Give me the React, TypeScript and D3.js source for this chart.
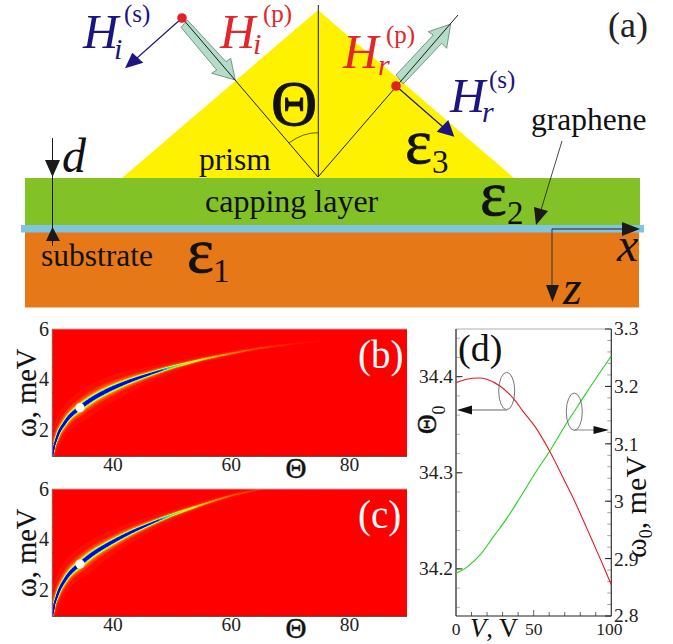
import React from "react";
import * as d3 from "d3";

// Panel (b) resonance ridge: angle (deg), energy (meV), peak depth, Lorentz half-width
const ridgeThetaB = [30.05,30.17,30.37,30.74,31.22,31.86,32.99,34.68,36.93,39.75,43.13,46.51,49.89,52.71,55.47,58.34,61.16,63.92,66.79,69.61,72.37,75.24];
const ridgeOmegaB = [1.01,1.18,1.44,1.71,1.99,2.23,2.58,2.91,3.28,3.63,3.96,4.23,4.48,4.65,4.81,4.95,5.08,5.20,5.30,5.38,5.46,5.53];
const ridgeDepthB = [0.9,1.3,1.7,2.0,2.2,2.2,2.2,2.2,2.2,2.2,1.85,1.25,0.7,0.5,0.35,0.26,0.18,0.13,0.1,0.07,0.05,0.03];
const ridgeWidthB = [0.35,0.4,0.5,0.6,0.7,0.8,1.0,1.25,1.25,1.2,1.05,0.95,0.9,0.85,0.8,0.8,0.8,0.75,0.7,0.7,0.7,0.7];
// Panel (c)
const ridgeThetaC = [30.05,30.17,30.37,30.74,31.22,31.86,32.99,34.68,36.93,39.75,43.13,46.51,49.89,52.71,55.52,58.34,61.16,63.92,65.6];
const ridgeOmegaC = [1.05,1.18,1.48,1.758,2.053,2.328,2.70,3.054,3.467,3.867,4.28,4.63,4.95,5.18,5.40,5.61,5.79,5.93,6.0];
const ridgeDepthC = [0.9,1.3,1.7,2.0,2.2,2.2,2.2,2.2,2.2,2.1,1.7,1.15,0.66,0.46,0.3,0.2,0.13,0.09,0.06];
const ridgeWidthC = [0.35,0.4,0.5,0.6,0.7,0.8,1.0,1.25,1.2,1.1,1.0,0.9,0.85,0.85,0.8,0.8,0.8,0.75,0.7];
const dotB = { theta: 34.68, omega: 2.91 };
const dotC = { theta: 34.68, omega: 3.05 };

// Panel (d)
const voltRed = [0,6.9,14.4,19.8,28.3,36.9,43.3,50.9,60.5,69.1,75.5,84.2,92.7,100];
const theta0 = [34.3938,34.3973,34.3986,34.3973,34.3903,34.3775,34.3636,34.348,34.322,34.2944,34.2736,34.2424,34.2112,34.1835];
const voltGreen = [0,6.9,15.5,24.1,32.7,41.2,50.9,60.5,71.2,80.9,90.5,100];
const omega0 = [2.8744,2.8848,2.9063,2.9382,2.970,3.006,3.0486,3.088,3.1358,3.176,3.2155,3.253];

const heatThetaTicks = [40,60,80];
const heatOmegaTicks = [2,4,6];
const theta0Ticks = [34.2,34.3,34.4];
const omega0Ticks = ["2.8","2.9","3","3.1","3.2","3.3"];
const voltTicks = [0,50,100];

const SERIF = "'Liberation Serif','Times New Roman',serif";
const jet = d3.scaleLinear<string>()
  .domain([0,0.14,0.32,0.48,0.62,0.76,0.9,1])
  .range(["#ff0000","#ff7a00","#ffff30","#80ff30","#00ffa0","#00c0ff","#0010ff","#0000e0"]);
const levels = d3.range(0.02,1.001,0.04);

function HeatPanel({ top, label, th, om, dp, wd, dot, id }: any) {
  const x = d3.scaleLinear().domain([30,90]).range([52.3,407]);
  const y = d3.scaleLinear().domain([1,6]).range([top+127.3,top]);
  const cr = (a: number[], i: number, t: number) => {
    const p0=a[Math.max(i-1,0)],p1=a[i],p2=a[i+1],p3=a[Math.min(i+2,a.length-1)];
    return 0.5*(2*p1+(p2-p0)*t+(2*p0-5*p1+4*p2-p3)*t*t+(3*p1-p0-3*p2+p3)*t*t*t);
  };
  const fine: any[] = [];
  for (let i=0;i<th.length-1;i++) for (let k=0;k<5;k++) {
    const t=k/5;
    fine.push({t:cr(th,i,t),o:cr(om,i,t),d:dp[i]+(dp[i+1]-dp[i])*t,w:wd[i]+(wd[i+1]-wd[i])*t});
  }
  fine.push({t:th[th.length-1],o:om[om.length-1],d:dp[dp.length-1],w:wd[wd.length-1]});
  const segs: any[] = [];
  levels.forEach((L,li)=>{
    for (let i=0;i<fine.length-1;i++){
      const a=fine[i],b=fine[i+1];
      const dm=(a.d+b.d)/2; if(dm<=L) continue;
      const w=2*((a.w+b.w)/2)*Math.sqrt(dm/L-1);
      segs.push(<line key={li+"-"+i} x1={x(a.t)} y1={y(a.o)} x2={x(b.t)} y2={y(b.o)} stroke={jet(L)} strokeWidth={w} strokeLinecap="round"/>);
    }
  });
  const xMinor=d3.range(35,90,5);
  const yMinor=d3.range(1.5,6,0.5);
  return <g>
    <clipPath id={id}><rect x={52.3} y={top} width={354.7} height={127.3}/></clipPath>
    <rect x={52.3} y={top} width={354.7} height={127.3} fill="#ff0000"/>
    <g clipPath={`url(#${id})`}><g filter="url(#soft)">{segs}</g></g>
    <circle cx={x(dot.theta)} cy={y(dot.omega)} r={4.6} fill="#fff"/>
    <line x1={52.3} x2={407} y1={top} y2={top} stroke="#b9a0a0" strokeWidth={1}/>
    <line x1={52.3} x2={407} y1={top+127.3} y2={top+127.3} stroke="#553333" strokeWidth={1}/>
    <line x1={52.3} x2={52.3} y1={top} y2={top+127.3} stroke="#a05050" strokeWidth={1}/>
    {xMinor.map(v=><line key={v} x1={x(v)} x2={x(v)} y1={top+127.3} y2={top+124.8} stroke="#803030" strokeWidth={0.8}/>)}
    {yMinor.map(v=><line key={v} x1={52.3} x2={55} y1={y(v)} y2={y(v)} stroke="#803030" strokeWidth={0.8}/>)}
    {heatThetaTicks.map(v=><text key={v} x={x(v)+1.5} y={top+142} fontSize={19.5} textAnchor="middle" fill="#222">{v}</text>)}
    {heatOmegaTicks.map(v=><text key={v} x={49} y={y(v)+6.5} fontSize={20} textAnchor="end" fill="#222">{v}</text>)}
    <text x={296} y={top+149} fontSize={29} textAnchor="middle" fill="#111" stroke="#111" strokeWidth={0.5}>Θ</text>
    <text transform={`translate(36,${top+108}) rotate(-90)`} fontSize={28.5} fill="#111" stroke="#111" strokeWidth={0.2}>ω, meV</text>
    <text x={358} y={top+39} fontSize={39} fill="#fff">{label}</text>
  </g>;
}

function Poly({ pts, fill, stroke, sw }: any) {
  return <polygon points={pts} fill={fill} stroke={stroke} strokeWidth={sw}/>;
}

function Field({ x, y, color, sub, sup, subX, subY, supX, supY }: any) {
  return <g fill={color}>
    <text x={x} y={y} fontSize={49} fontStyle="italic">H</text>
    <text x={subX} y={subY} fontSize={30} fontStyle="italic">{sub}</text>
    <text x={supX} y={supY} fontSize={25}>{sup}</text>
  </g>;
}

function Eps({ x, y, n, nx, ny }: any) {
  return <g fill="#111">
    <text x={x} y={y} fontSize={64} stroke="#111" strokeWidth={0.7}>ε</text>
    <text x={nx} y={ny} fontSize={33}>{n}</text>
  </g>;
}

function SchemaPanel() {
  const ink="#1a1a1a", navy="#1c1480", red="#e3262a", mint="#b5dcc8", mintEdge="#50705f";
  return <g>
    <polygon points="318,10 122,178 514,178" fill="#fff200"/>
    <rect x={25} y={178} width={615} height={47} fill="#82c226"/>
    <rect x={25} y={232} width={614} height={75.5} fill="#e67817"/>
    <rect x={21} y={225} width={623} height={7.5} fill="#7fc4e0"/>

    <Poly pts="181,27.3 187.3,20 226,61.7 230.7,58.3 235.3,80 211.7,73.3 216.7,70" fill={mint} stroke={mintEdge} sw={0.7}/>
    <Poly pts="396,75 403.3,84 441.7,43.3 446.7,48.3 450.7,24 428.3,31.7 433.3,35" fill={mint} stroke={mintEdge} sw={0.7}/>
    <line x1={318.3} y1={5} x2={318.3} y2={177} stroke={ink} strokeWidth={1}/>
    <polyline points="182,18 318,177 458,15" fill="none" stroke={ink} strokeWidth={1}/>
    <path d="M289.3,142.7 Q303,132.5 318.3,132.7" fill="none" stroke={ink} strokeWidth={0.7}/>

    <line x1={182} y1={18} x2={137} y2={58} stroke={navy} strokeWidth={1.2}/>
    <polygon points="125,68.3 132.3,52.7 143.3,62.7" fill={navy}/>
    <line x1={396} y1={86} x2={443} y2={127} stroke={navy} strokeWidth={1.2}/>
    <polygon points="454.3,136.7 436.7,131.7 448.3,120" fill={navy}/>
    <circle cx={182} cy={18} r={4.8} fill="#e3202a"/>
    <circle cx={396} cy={86} r={4.8} fill="#e3202a"/>

    <Field x={83} y={48} color={navy} sub="i" sup="(s)" subX={114} subY={59} supX={124} supY={22}/>
    <Field x={220} y={48} color={red} sub="i" sup="(p)" subX={253} subY={54} supX={263} supY={22}/>
    <Field x={343} y={68} color={red} sub="r" sup="(p)" subX={378} subY={75} supX={386} supY={43}/>
    <Field x={450} y={112} color={navy} sub="r" sup="(s)" subX={482} subY={122} supX={489} supY={88}/>

    <text x={271} y={125} fontSize={64} fill="#111" stroke="#111" strokeWidth={0.9}>Θ</text>
    <text x={199} y={170} fontSize={31.5} fill="#111">prism</text>
    <text x={205} y={212} fontSize={32} fill="#111">capping layer</text>
    <text x={41} y={266} fontSize={31.5} fill="#111">substrate</text>
    <text x={531} y={130} fontSize={31.5} fill="#111">graphene</text>
    <text x={608} y={37} fontSize={36} fill="#222">(a)</text>

    <Eps x={187} y={272} n="1" nx={213} ny={282}/>
    <Eps x={405} y={163} n="3" nx={432} ny={173}/>
    <Eps x={480} y={215} n="2" nx={507} ny={224}/>

    <line x1={52.5} y1={138} x2={52.5} y2={246} stroke={ink} strokeWidth={1}/>
    <polygon points="45,160 60,160 52.5,177" fill={ink}/>
    <polygon points="46,241 60,241 52.5,227" fill={ink}/>
    <text x={62} y={172} fontSize={48} fontStyle="italic" fill="#111">d</text>

    <line x1={552} y1={229} x2={625} y2={229} stroke="#222" strokeWidth={1}/>
    <line x1={552} y1={229} x2={552} y2={288} stroke="#333" strokeWidth={1}/>
    <polygon points="622,222 622,236 640,229" fill={ink}/>
    <polygon points="546,285 559,285 552.5,302" fill={ink}/>
    <text x={617} y={261} fontSize={48} fontStyle="italic" fill="#111">x</text>
    <text x={563} y={304} fontSize={48} fontStyle="italic" fill="#111">z</text>

    <line x1={562} y1={141} x2={541} y2={210} stroke={ink} strokeWidth={0.8}/>
    <polygon points="536,225 534,207 548,211" fill={ink}/>
  </g>;
}

function PanelD() {
  const x=d3.scaleLinear().domain([0,100]).range([456,611.3]);
  const yL=d3.scaleLinear().domain([34.151,34.4496]).range([616,329]);
  const yR=d3.scaleLinear().domain([2.8,3.3]).range([616,329]);
  const redLine=d3.line<number>().x((_,i)=>x(voltRed[i])).y(d=>yL(d)).curve(d3.curveCatmullRom);
  const greenLine=d3.line<number>().x((_,i)=>x(voltGreen[i])).y(d=>yR(d)).curve(d3.curveCatmullRom);
  const leftMinor=d3.range(34.16,34.45,0.02);
  const rightMinor=d3.range(2.82,3.3,0.02);
  const bottomMinor=d3.range(10,100,10);
  return <g>
    <rect x={456} y={329} width={155.3} height={287} fill="#fff"/>
    <line x1={456} x2={611.3} y1={329} y2={329} stroke="#999" strokeWidth={0.8}/>
    {leftMinor.map(v=><line key={v} x1={456} x2={460} y1={yL(v)} y2={yL(v)} stroke="#aaa" strokeWidth={0.9}/>)}
    {theta0Ticks.map(v=><line key={v} x1={456} x2={462.5} y1={yL(v)} y2={yL(v)} stroke="#222" strokeWidth={1}/>)}
    {rightMinor.map(v=><line key={v} x1={611.3} x2={607.3} y1={yR(v)} y2={yR(v)} stroke="#999" strokeWidth={0.9}/>)}
    {omega0Ticks.map(v=><line key={v} x1={611.3} x2={605} y1={yR(+v)} y2={yR(+v)} stroke="#222" strokeWidth={1}/>)}
    {bottomMinor.map(v=><line key={v} x1={x(v)} x2={x(v)} y1={616} y2={v===50?610:612} stroke="#555" strokeWidth={0.9}/>)}
    <line x1={456} x2={456} y1={329} y2={616} stroke="#555" strokeWidth={1.6}/>
    <line x1={611.3} x2={611.3} y1={329} y2={616} stroke="#333" strokeWidth={1.2}/>
    <line x1={456} x2={611.3} y1={616} y2={616} stroke="#222" strokeWidth={1.2}/>

    <path d={greenLine(omega0)!} fill="none" stroke="#1fd41f" strokeWidth={1.1}/>
    <path d={redLine(theta0)!} fill="none" stroke="#e41a26" strokeWidth={1.1}/>

    <ellipse cx={506.7} cy={391} rx={8} ry={18.7} fill="none" stroke="#666" strokeWidth={0.9}/>
    <line x1={507} x2={472} y1={410} y2={410} stroke="#999" strokeWidth={1.4}/>
    <polygon points="457,410 472,405.5 472,414.5" fill="#111"/>
    <ellipse cx={574.3} cy={411.7} rx={8} ry={18.7} fill="none" stroke="#666" strokeWidth={0.9}/>
    <line x1={574.3} x2={595} y1={430} y2={430} stroke="#777" strokeWidth={0.9}/>
    <polygon points="609,430 593.5,426 593.5,434" fill="#111"/>

    {theta0Ticks.map(v=><text key={v} x={453} y={yL(v)+6.5} fontSize={19.5} textAnchor="end" fill="#222">{v}</text>)}
    {omega0Ticks.map(v=><text key={v} x={614} y={yR(+v)+(v==="2.8"?6:v==="3.3"?6:7)} fontSize={19.5} fill="#222">{v}</text>)}
    {voltTicks.map(v=><text key={v} x={x(v)+(v===100?-2:0)} y={635} fontSize={17.5} textAnchor="middle" fill="#222">{v}</text>)}
    <text x={470} y={637} fontSize={26.5} fill="#111"><tspan fontStyle="italic">V</tspan>, V</text>

    <text transform="translate(436,434) rotate(-90)" fontSize={27} fill="#111" stroke="#111" strokeWidth={0.5}>Θ<tspan dy={9} fontSize={18} strokeWidth={0}>0</tspan></text>
    <text transform="translate(645.5,558) rotate(-90)" fontSize={30} fill="#111">ω<tspan dy={6} fontSize={18}>0</tspan><tspan dy={-6}>, meV</tspan></text>
    <text x={458} y={361} fontSize={38} fill="#111">(d)</text>
  </g>;
}

export default function App() {
  return <svg width={673} height={644} viewBox="0 0 673 644" style={{position:"absolute",left:0,top:0,background:"#fff"}} fontFamily={SERIF}>
    <defs><filter id="soft" x="-5%" y="-5%" width="110%" height="110%"><feGaussianBlur stdDeviation={0.4}/></filter></defs>
    <SchemaPanel/>
    <HeatPanel id="cb" top={329} label="(b)" th={ridgeThetaB} om={ridgeOmegaB} dp={ridgeDepthB} wd={ridgeWidthB} dot={dotB}/>
    <HeatPanel id="cc" top={489} label="(c)" th={ridgeThetaC} om={ridgeOmegaC} dp={ridgeDepthC} wd={ridgeWidthC} dot={dotC}/>
    <PanelD/>
  </svg>;
}
